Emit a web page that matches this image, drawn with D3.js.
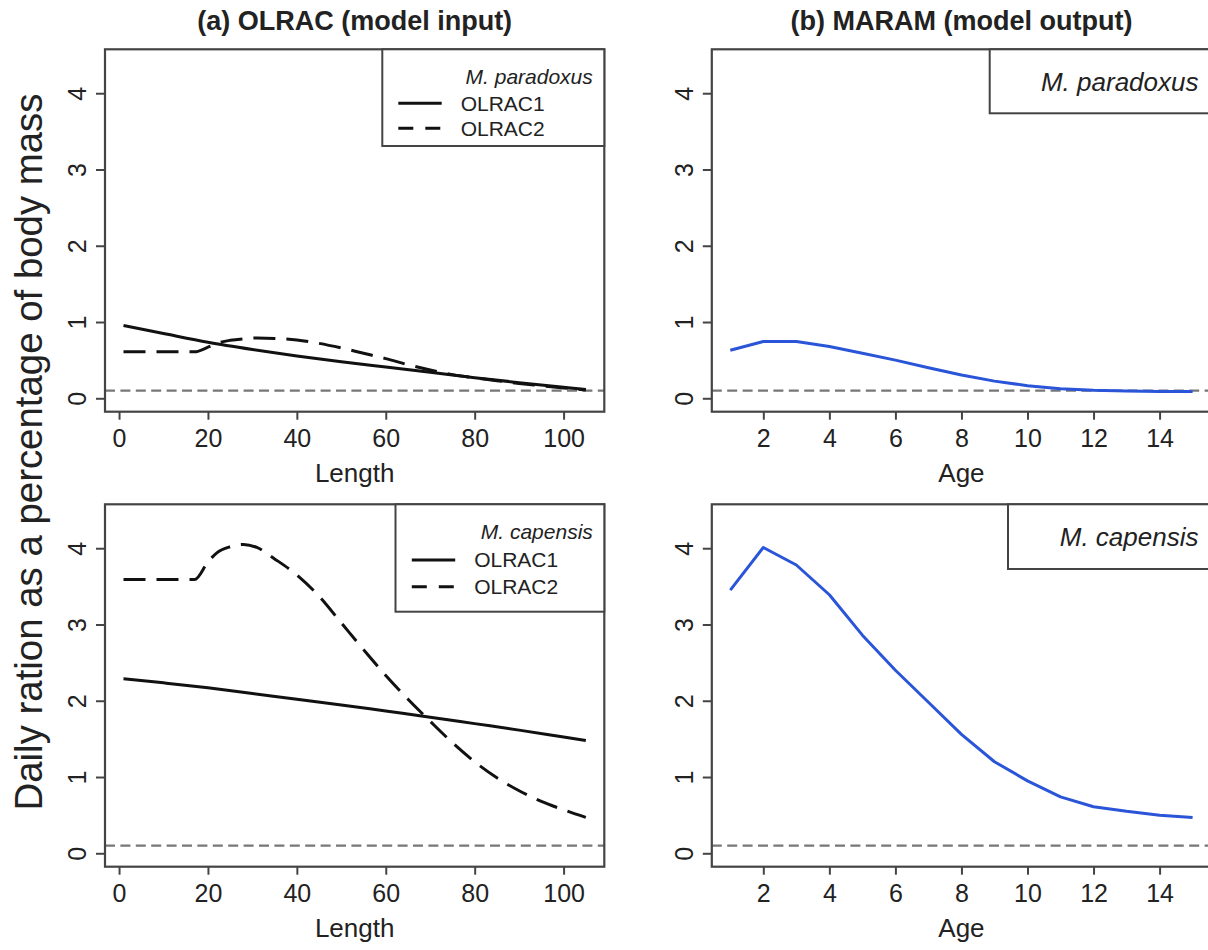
<!DOCTYPE html>
<html>
<head>
<meta charset="utf-8">
<script src="https://cdn.jsdelivr.net/npm/d3@7"></script>
<style>
  body { margin: 0; background: #fff; }
  text { font-family: "Liberation Sans", Arial, Helvetica, sans-serif; fill: #222; }
</style>
</head>
<body>
<svg id="chart" width="1208" height="950"></svg>
<script>
// values
var lenSolid = [1, 10, 20, 30, 40, 50, 60, 70, 80, 90, 100, 105];
var parOlrac1 = [0.955, 0.85, 0.735, 0.64, 0.555, 0.48, 0.41, 0.34, 0.27, 0.205, 0.145, 0.115];
var capOlrac1 = [2.29, 2.235, 2.17, 2.095, 2.02, 1.945, 1.865, 1.785, 1.70, 1.615, 1.525, 1.48];

var lenDash = [1, 17, 20, 22, 25, 28, 31, 35, 40, 45, 50, 55, 60, 65, 70, 75, 80, 85, 90, 95, 100, 105];
var parOlrac2 = [0.61, 0.61, 0.67, 0.72, 0.76, 0.78, 0.79, 0.785, 0.765, 0.72, 0.66, 0.59, 0.52, 0.44, 0.37, 0.31, 0.27, 0.23, 0.195, 0.165, 0.135, 0.11];
var capOlrac2 = [3.59, 3.59, 3.82, 3.94, 4.02, 4.05, 4.01, 3.86, 3.65, 3.37, 3.02, 2.67, 2.33, 2.02, 1.73, 1.45, 1.2, 0.99, 0.82, 0.68, 0.57, 0.47];

var ages = [1, 2, 3, 4, 5, 6, 7, 8, 9, 10, 11, 12, 13, 14, 15];
var parMaram = [0.63, 0.745, 0.745, 0.68, 0.59, 0.5, 0.4, 0.305, 0.225, 0.165, 0.125, 0.105, 0.095, 0.09, 0.088];
var capMaram = [3.45, 4.01, 3.78, 3.39, 2.86, 2.4, 1.98, 1.56, 1.2, 0.95, 0.74, 0.61, 0.55, 0.5, 0.47];

var threshold = 0.1;
var lenTicks = [0, 20, 40, 60, 80, 100];
var ageTicks = [2, 4, 6, 8, 10, 12, 14];
var yTicks = [0, 1, 2, 3, 4];
var titles = ["(a) OLRAC (model input)", "(b) MARAM (model output)"];
var species = ["M. paradoxus", "M. capensis"];
var olracNames = ["OLRAC1", "OLRAC2"];

var svg = d3.select("#chart");
svg.append("rect").attr("width", 1208).attr("height", 950).attr("fill", "#fff");

var colX = [105, 711.8], rowY = [49.3, 504.3], W = 499.3, H = 362.4;
var boxCol = "#444", blue = "#2a55d8";

var zip = function (xs, ys) { return xs.map(function (d, i) { return [d, ys[i]] }) };

var panels = [
  {c: 0, r: 0, kind: "len", sp: 0, series: [zip(lenSolid, parOlrac1), zip(lenDash, parOlrac2)]},
  {c: 1, r: 0, kind: "age", sp: 0, series: [zip(ages, parMaram)]},
  {c: 0, r: 1, kind: "len", sp: 1, series: [zip(lenSolid, capOlrac1), zip(lenDash, capOlrac2)]},
  {c: 1, r: 1, kind: "age", sp: 1, series: [zip(ages, capMaram)]}
];

// legend box: left edge (absolute x) and height below panel top
var legendLeft = [382.3, 989.7, 395.5, 1008];
var legendH = [96.7, 64, 107.4, 64.7];

panels.forEach(function (p, pi) {
  var x0 = colX[p.c], y0 = rowY[p.r];
  var g = svg.append("g").attr("transform", "translate(" + x0 + "," + y0 + ")");
  var x = p.kind == "len"
    ? d3.scaleLinear().domain([-3.16, 109.16]).range([0, W])
    : d3.scaleLinear().domain([0.44, 15.56]).range([0, W]);
  var y = d3.scaleLinear().domain([-0.176, 4.576]).range([H, 0]);

  var cid = "clip" + pi;
  g.append("clipPath").attr("id", cid).append("rect").attr("width", W).attr("height", H);

  // threshold
  g.append("line")
    .attr("x1", 0).attr("x2", W)
    .attr("y1", y(threshold)).attr("y2", y(threshold))
    .attr("stroke", "#777").attr("stroke-width", 2.2)
    .attr("stroke-dasharray", "10,5.4");

  var line = d3.line()
    .x(function (d) { return x(d[0]) })
    .y(function (d) { return y(d[1]) })
    .curve(p.kind == "len" ? d3.curveMonotoneX : d3.curveLinear);

  p.series.forEach(function (s, si) {
    g.append("path")
      .attr("d", line(s))
      .attr("clip-path", "url(#" + cid + ")")
      .attr("fill", "none")
      .attr("stroke", p.kind == "len" ? "#111" : blue)
      .attr("stroke-width", 3)
      .attr("stroke-linejoin", "round")
      .attr("stroke-dasharray", si == 1 ? "22,11" : null);
  });

  // axes
  var xa = g.append("g").attr("transform", "translate(0," + H + ")")
    .call(d3.axisBottom(x).tickValues(p.kind == "len" ? lenTicks : ageTicks)
      .tickFormat(d3.format("d")).tickSize(8).tickPadding(9.5));
  xa.select(".domain").remove();
  xa.selectAll("line").attr("stroke", boxCol).attr("stroke-width", 2);
  xa.selectAll("text").attr("font-size", 25).attr("fill", "#222")
    .style("font-family", "Liberation Sans, Arial, sans-serif");

  var ya = g.append("g").call(d3.axisLeft(y).tickValues(yTicks).tickFormat(d3.format("d")).tickSize(9));
  ya.select(".domain").remove();
  ya.selectAll("line").attr("stroke", boxCol).attr("stroke-width", 2);
  ya.selectAll("text")
    .attr("transform", "rotate(-90)")
    .attr("x", 0).attr("y", -19).attr("dy", 0)
    .attr("text-anchor", "middle")
    .attr("font-size", 25).attr("fill", "#222")
    .style("font-family", "Liberation Sans, Arial, sans-serif");

  // box
  g.append("rect").attr("width", W).attr("height", H)
    .attr("fill", "none").attr("stroke", boxCol).attr("stroke-width", 2.2);

  // x label
  g.append("text").attr("x", W / 2).attr("y", H + 70.5)
    .attr("text-anchor", "middle").attr("font-size", 26)
    .text(p.kind == "len" ? "Length" : "Age");

  // panel title (top row)
  if (p.r == 0)
    g.append("text").attr("x", W / 2).attr("y", -19.5)
      .attr("text-anchor", "middle").attr("font-size", 27).attr("font-weight", "bold")
      .text(titles[p.c]);

  // legend
  var lx = legendLeft[pi] - x0;
  var lg = g.append("g");
  lg.append("rect").attr("x", lx).attr("y", 0).attr("width", W - lx).attr("height", legendH[pi])
    .attr("fill", "#fff").attr("stroke", boxCol).attr("stroke-width", 2);
  if (p.kind == "len") {
    var sh = p.r == 0 ? 0 : 13.5;
    var rowsY = p.r == 0 ? [27.4, 54, 79] : [27.4, 55.7, 82.4];
    lg.append("text").attr("x", W - 11.5).attr("y", rowsY[0] + 7.5)
      .attr("text-anchor", "end").attr("font-size", 21).attr("font-style", "italic")
      .text(species[p.sp]);
    olracNames.forEach(function (n, i) {
      lg.append("line")
        .attr("x1", 293.3 + sh).attr("x2", 336.7 + sh)
        .attr("y1", rowsY[i + 1]).attr("y2", rowsY[i + 1])
        .attr("stroke", "#111").attr("stroke-width", 3)
        .attr("stroke-dasharray", i == 1 ? "15,12" : null);
      lg.append("text").attr("x", 355.7 + sh).attr("y", rowsY[i + 1] + 7.5)
        .attr("font-size", 21).text(n);
    });
  } else {
    lg.append("text").attr("x", 1198.5 - x0).attr("y", 41.7)
      .attr("text-anchor", "end").attr("font-size", 26).attr("font-style", "italic")
      .text(species[p.sp]);
  }
});

// shared y label
svg.append("text")
  .attr("transform", "translate(42,452) rotate(-90)")
  .attr("text-anchor", "middle").attr("font-size", 38.4)
  .text("Daily ration as a percentage of body mass");
</script>
</body>
</html>
